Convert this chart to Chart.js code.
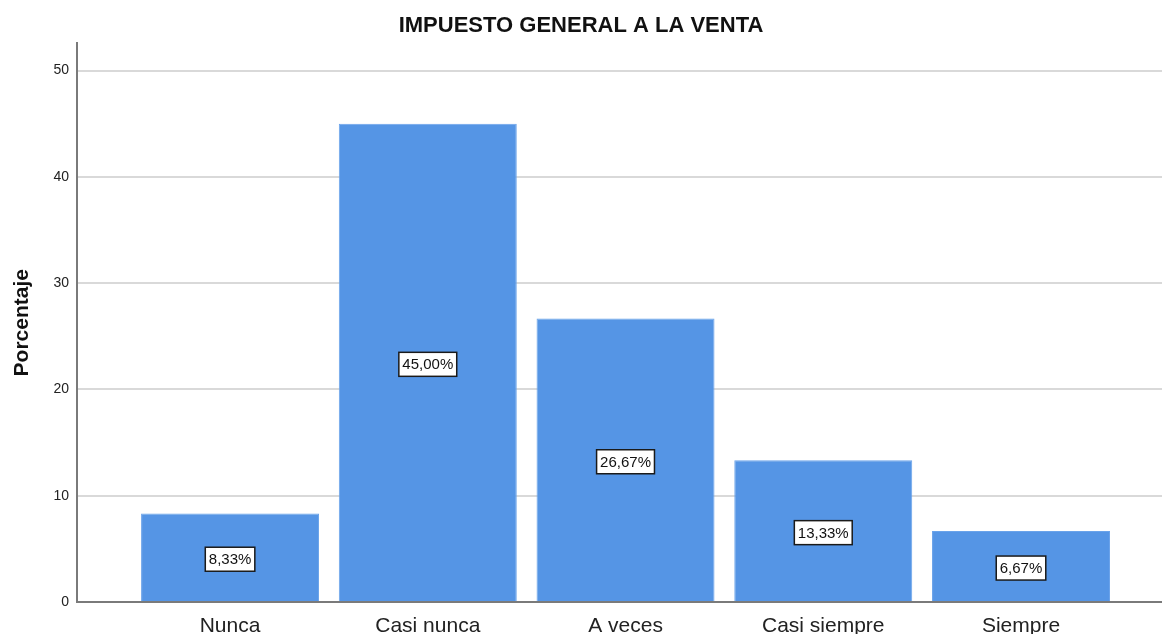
<!DOCTYPE html>
<html>
<head>
<meta charset="utf-8">
<script src="https://cdn.jsdelivr.net/npm/chart.js@4/dist/chart.umd.min.js"></script>
<style>
    html, body { margin: 0; padding: 0; background: #fff; overflow: hidden; }
    #wrap { width: 1162px; height: 634px; }
</style>
</head>
<body>
<div id="wrap"><canvas id="chart"></canvas></div>
<script>
const categories = ["Nunca", "Casi nunca", "A veces", "Casi siempre", "Siempre"];
const percentages = [8.33, 45.00, 26.67, 13.33, 6.67];
const percentLabels = ["8,33%", "45,00%", "26,67%", "13,33%", "6,67%"];
const yTicks = [0, 10, 20, 30, 40, 50];

/* boxed value labels in the middle of each bar */
const boxLabels = {
    id: 'boxLabels',
    afterDatasetsDraw(chart) {
        const ctx = chart.ctx;
        const meta = chart.getDatasetMeta(0);
        ctx.save();
        ctx.font = '15px "Liberation Sans", Arial, sans-serif';
        ctx.textAlign = 'center';
        ctx.textBaseline = 'middle';
        meta.data.forEach(function (bar, i) {
            const text = percentLabels[i];
            const cx = bar.x;
            const cy = (bar.y + bar.base) / 2 + 2;
            const w = ctx.measureText(text).width + 7;
            const h = 24;
            ctx.fillStyle = '#ffffff';
            ctx.fillRect(cx - w / 2, cy - h / 2, w, h);
            ctx.strokeStyle = '#1a1a1a';
            ctx.lineWidth = 1.5;
            ctx.strokeRect(cx - w / 2, cy - h / 2, w, h);
            ctx.fillStyle = '#111';
            ctx.fillText(text, cx, cy + 1);
        });
        ctx.restore();
    }
};

let ctx = document.getElementById("chart").getContext("2d");
let chart = new Chart(ctx, {
    type: "bar",
    data: {
        datasets: [
            {
                label: "Porcentaje",
                data: categories.map(function (c, i) { return { x: i, y: percentages[i] }; }),
                backgroundColor: "#5595E5",
                borderColor: "#6aa3ea",
                borderWidth: 1,
                barPercentage: 0.9,
                categoryPercentage: 1.0
            }
        ]
    },
    options: {
        responsive: true,
        maintainAspectRatio: false,
        animation: false,
        layout: { padding: { left: 0, right: 0, top: 0, bottom: 0 } },
        plugins: {
            legend: { display: false },
            tooltip: { enabled: false },
            title: {
                display: true,
                text: "IMPUESTO GENERAL A LA VENTA",
                color: "#111",
                font: { family: '"Liberation Sans", Arial, sans-serif', size: 22, weight: 'bold' },
                padding: { top: 13, bottom: 4 }
            }
        },
        scales: {
            x: {
                type: 'linear',
                offset: false,
                min: -0.774,
                max: 4.713,
                afterBuildTicks: function (scale) {
                    scale.ticks = categories.map(function (c, i) { return { value: i }; });
                },
                afterFit: function (scale) { scale.height = 32; },
                ticks: {
                    callback: function (v) { return categories[v]; },
                    autoSkip: false,
                    maxRotation: 0,
                    padding: 12,
                    color: "#222",
                    font: { family: '"Liberation Sans", Arial, sans-serif', size: 21 }
                },
                grid: { drawOnChartArea: false, drawTicks: false },
                border: { color: "#7a7a7a", width: 2 }
            },
            y: {
                min: 0,
                max: 52.55,
                afterBuildTicks: function (scale) {
                    scale.ticks = yTicks.map(function (v) { return { value: v }; });
                },
                afterFit: function (scale) { scale.width = 77; },
                ticks: {
                    padding: 8,
                    color: "#222",
                    font: { family: '"Liberation Sans", Arial, sans-serif', size: 14 }
                },
                grid: { color: "#d9d9d9", lineWidth: 2, drawTicks: false },
                border: { color: "#7a7a7a", width: 2 },
                title: {
                    display: true,
                    text: "Porcentaje",
                    color: "#111",
                    font: { family: '"Liberation Sans", Arial, sans-serif', size: 21, weight: 'bold' },
                    padding: { top: 10, bottom: 0 }
                }
            }
        }
    },
    plugins: [boxLabels]
});
</script>
</body>
</html>
